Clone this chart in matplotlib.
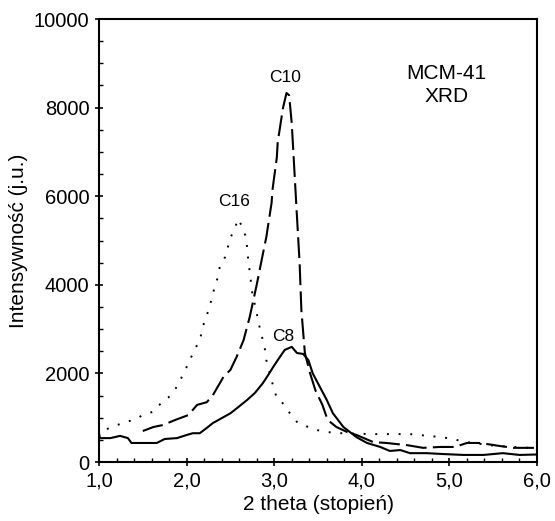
import matplotlib
matplotlib.use("Agg")
import matplotlib.pyplot as plt
from matplotlib.ticker import MultipleLocator, FuncFormatter

plt.rcParams['font.family'] = ['Liberation Sans', 'DejaVu Sans']

# C16 (dotted)
c16_x = [1.09, 1.18, 1.29, 1.40, 1.50, 1.61, 1.70, 1.79, 1.89, 1.99, 2.09, 2.15, 2.20, 2.26,
         2.30, 2.35, 2.38, 2.44, 2.50, 2.55, 2.59, 2.64, 2.68, 2.70, 2.75, 2.80, 2.84, 2.89,
         2.91, 2.95, 2.99, 3.03, 3.07, 3.18, 3.27, 3.39, 3.49, 3.60, 3.71, 3.83, 4.09, 4.24,
         4.44, 4.55, 4.76, 4.89, 4.98, 5.2, 5.5, 5.8, 6.0]
c16_y = [745, 810, 900, 950, 1060, 1130, 1310, 1450, 1700, 2100, 2530, 2750, 3150, 3480,
         3810, 4130, 4420, 4630, 5060, 5280, 5490, 5280, 5060, 4630, 3810, 3360, 2980, 2600,
         2300, 2000, 1700, 1440, 1400, 1100, 880, 790, 720, 680, 650, 650, 630, 630,
         630, 630, 590, 565, 540, 450, 370, 330, 310]

# C10 (dashed)
c10_x = [1.50, 1.62, 1.73, 1.87, 2.02, 2.12, 2.23, 2.30, 2.42, 2.50, 2.57, 2.65, 2.72, 2.80,
         2.88, 2.91, 2.97, 2.98, 3.03, 3.04, 3.10, 3.14, 3.17, 3.20, 3.23, 3.26, 3.29, 3.31,
         3.35, 3.41, 3.47, 3.55, 3.61, 3.71, 3.83, 3.94, 4.13, 4.28, 4.52, 4.70, 4.89, 5.06,
         5.20, 5.35, 5.58, 5.73, 5.95, 6.0]
c10_y = [700, 790, 835, 950, 1060, 1290, 1350, 1510, 1920, 2080, 2370, 2750, 3270, 4000,
         4790, 5080, 5850, 6140, 6880, 7220, 7990, 8330, 8280, 7650, 6590, 5530, 4490, 3430,
         2460, 2000, 1620, 1290, 950, 790, 680, 610, 450, 430, 380, 320, 340, 340,
         430, 430, 360, 320, 320, 320]

# C8 (solid)
c8_x = [1.00, 1.01, 1.13, 1.24, 1.33, 1.37, 1.50, 1.66, 1.75, 1.89, 2.00, 2.07, 2.15, 2.23,
        2.30, 2.40, 2.50, 2.59, 2.69, 2.78, 2.87, 2.93, 2.99, 3.05, 3.12, 3.20, 3.26, 3.33,
        3.39, 3.44, 3.52, 3.60, 3.67, 3.79, 3.94, 4.06, 4.21, 4.32, 4.44, 4.55, 4.74, 4.93,
        5.16, 5.39, 5.61, 5.80, 6.00]
c8_y = [650, 540, 540, 590, 540, 430, 430, 430, 520, 540, 610, 650, 650, 770,
        880, 990, 1100, 1240, 1400, 1560, 1780, 1960, 2150, 2330, 2530, 2600, 2460, 2440,
        2300, 2000, 1700, 1400, 1100, 790, 560, 430, 340, 250, 270, 200, 200, 180,
        160, 160, 200, 160, 170]

labels = ["C16", "C10", "C8"]
label_x = [2.54, 3.12, 3.10]
label_y = [5870, 8690, 2840]

fig = plt.figure(figsize=(5.55, 5.21), dpi=100)
ax = fig.add_axes([0.1784, 0.1132, 0.7892, 0.8503])

ax.plot(c16_x, c16_y, color='black', lw=1.4, linestyle=(0, (1, 5)))
ax.plot(c10_x, c10_y, color='black', lw=1.5, linestyle=(0, (10, 3)))
ax.plot(c8_x, c8_y, color='black', lw=1.5, linestyle='-')

for t, x, y in zip(labels, label_x, label_y):
    ax.text(x, y, t, ha='center', va='center', fontsize=12.5)

ax.text(4.97, 8760, "MCM-41", ha='center', va='center', fontsize=15)
ax.text(4.97, 8260, "XRD", ha='center', va='center', fontsize=15)

ax.set_xlim(1.0, 6.0)
ax.set_ylim(0, 10000)
ax.xaxis.set_major_locator(MultipleLocator(1.0))
ax.xaxis.set_minor_locator(MultipleLocator(0.2))
ax.yaxis.set_major_locator(MultipleLocator(2000))
ax.yaxis.set_minor_locator(MultipleLocator(500))
ax.xaxis.set_major_formatter(FuncFormatter(lambda v, p: f"{v:.1f}".replace('.', ',')))
ax.tick_params(which='major', direction='inout', length=6, width=1.2, labelsize=14.5, pad=4)
ax.tick_params(which='minor', direction='in', length=3, width=1)
for s in ax.spines.values():
    s.set_linewidth(1.5)

ax.set_xlabel("2 theta (stopień)", fontsize=15, labelpad=3)
ax.set_ylabel("Intensywność (j.u.)", fontsize=15, labelpad=4)

fig.savefig("out.png", dpi=100)
